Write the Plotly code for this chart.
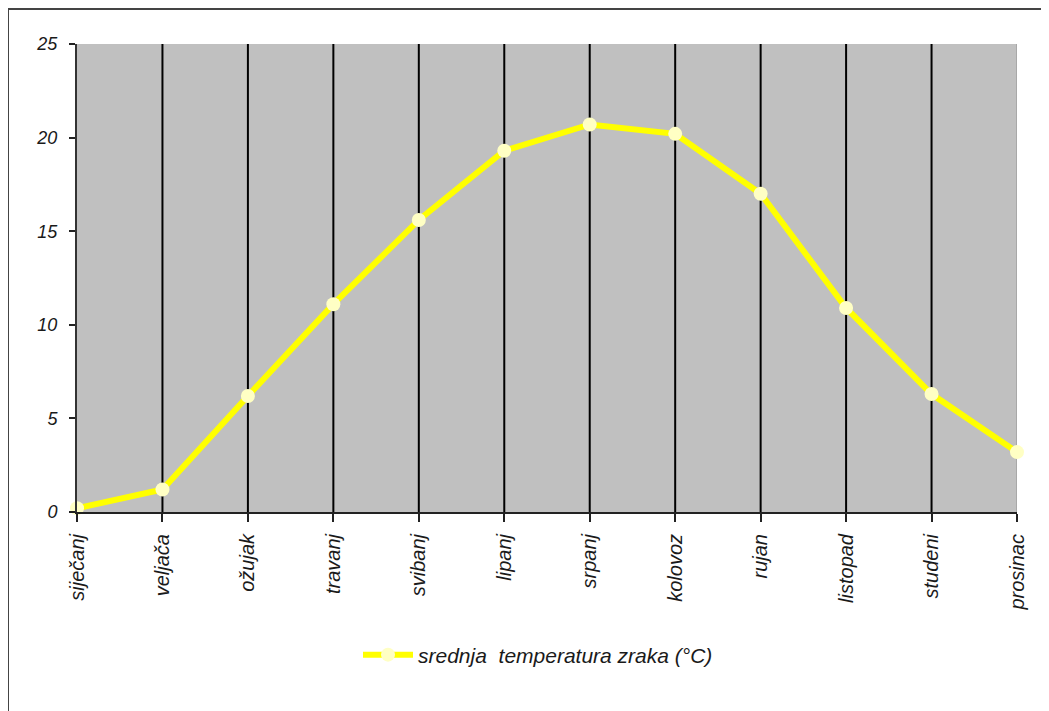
import plotly.graph_objects as go

months = ["siječanj", "veljača", "ožujak", "travanj", "svibanj", "lipanj",
          "srpanj", "kolovoz", "rujan", "listopad", "studeni", "prosinac"]
temperature = [0.2, 1.2, 6.2, 11.1, 15.6, 19.3, 20.7, 20.2, 17.0, 10.9, 6.3, 3.2]
series_name = "srednja  temperatura zraka (°C)"
y_ticks = [0, 5, 10, 15, 20, 25]

FONT = "Liberation Sans, Arial, sans-serif"
TXT = "#1a1a1a"

# page body has an 8px margin; figure origin sits at (8, 8) in the window
OFF = 8
L, T, W, H = 77 - OFF, 44 - OFF, 940, 468
FIG_W, FIG_H = 1049 - OFF, 711 - OFF

def px(xw): return (xw - OFF - L) / W
def py(yw): return (T + H - (yw - OFF)) / H

fig = go.Figure()
fig.add_trace(go.Scatter(
    x=months, y=temperature, name=series_name, mode="lines+markers",
    line=dict(color="#ffff00", width=6),
    marker=dict(color="#ffffc4", size=14, line=dict(width=0)),
    cliponaxis=False,
    showlegend=True,
))

shapes = []
for m in months[1:-1]:
    shapes.append(dict(type="line", xref="x", yref="paper", x0=m, x1=m, y0=0, y1=1,
                       line=dict(color="#000000", width=2), layer="below"))
shapes.append(dict(type="line", xref="x", yref="paper", x0=months[-1], x1=months[-1], y0=0, y1=1,
                   line=dict(color="#a8a8a8", width=2), layer="below"))
# outer frame (top and left)
shapes.append(dict(type="line", xref="paper", yref="paper", x0=px(8), x1=px(1060), y0=py(9), y1=py(9),
                   line=dict(color="#444444", width=2)))
shapes.append(dict(type="line", xref="paper", yref="paper", x0=px(8), x1=px(8), y0=py(9), y1=py(720),
                   line=dict(color="#444444", width=2)))

fig.update_layout(
    width=FIG_W, height=FIG_H,
    margin=dict(l=L, r=FIG_W - L - W, t=T, b=FIG_H - T - H),
    paper_bgcolor="white", plot_bgcolor="#c0c0c0",
    shapes=shapes,
    showlegend=True,
    legend=dict(orientation="h", x=px(538), xanchor="center", y=py(655), yanchor="middle",
                font=dict(family=FONT, size=21, color=TXT, style="italic"),
                itemwidth=50, bgcolor="rgba(0,0,0,0)"),
    xaxis=dict(
        type="category", range=[0, len(months) - 1],
        showgrid=False, zeroline=False,
        showline=True, linecolor="#222222", linewidth=2,
        ticks="outside", ticklen=8, tickwidth=2, tickcolor="#222222",
        tickangle=-90, ticklabelstandoff=4,
        tickfont=dict(family=FONT, size=20, color=TXT, style="italic"),
    ),
    yaxis=dict(
        range=[0, 25], tickvals=y_ticks,
        showgrid=False, zeroline=False,
        showline=True, linecolor="#333333", linewidth=2,
        ticks="outside", ticklen=6, tickwidth=2, tickcolor="#222222",
        tickfont=dict(family=FONT, size=18, color=TXT, style="italic"),
        ticklabelstandoff=8,
    ),
)

fig.write_html("out.html")
